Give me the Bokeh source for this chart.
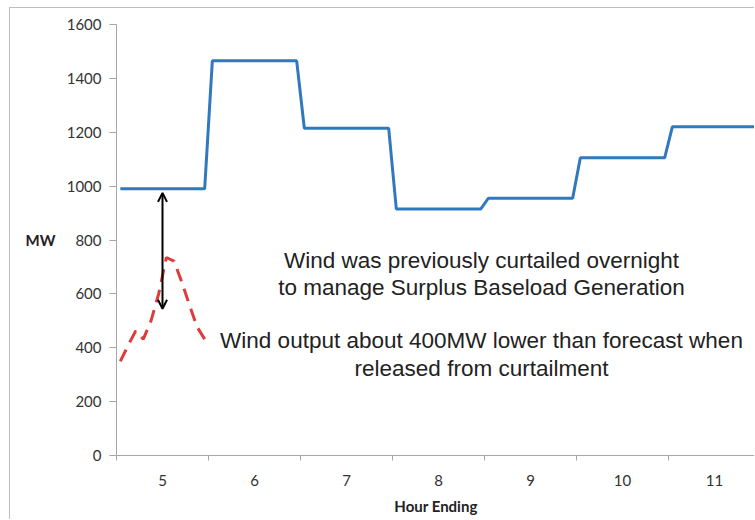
from bokeh.plotting import figure
from bokeh.models import Range1d, FixedTicker, Arrow, OpenHead, ColumnDataSource, LinearAxis, Label
from bokeh.embed import file_html
from bokeh.resources import INLINE

# ---- data ----
hours = [5, 6, 7, 8, 9, 10, 11]
hour_labels = ["5", "6", "7", "8", "9", "10", "11"]
load_mw = [990, 1465, 1215, 915, 955, 1105, 1220]          # blue stepped line (hourly level)
wind_hour = 5
wind_mw = [350, 408, 462, 432, 500, 600, 735, 722, 645, 560, 478, 432]  # red dashed, 5-min values
y_ticks = [0, 200, 400, 600, 800, 1000, 1200, 1400, 1600]
arrow_hour = 5
arrow_top_mw = 975
arrow_bottom_mw = 545
note_lines = [
    "Wind was previously curtailed overnight",
    "to manage Surplus Baseload Generation",
    "Wind output about 400MW lower than forecast when",
    "released from curtailment",
]

# ---- build glyph coordinates from the data ----
step = 1.0 / 12.0
lx, ly = [], []
for h, v in zip(hours, load_mw):
    lx += [h - 0.5 + step / 2, h + 0.5 - step / 2]
    ly += [v, v]
wx = [wind_hour - 0.5 + (i + 0.5) * step for i in range(len(wind_mw))]

load_src = ColumnDataSource(dict(x=lx, y=ly))
wind_src = ColumnDataSource(dict(x=wx, y=wind_mw))

p = figure(
    width=745, height=512,
    x_range=Range1d(4.5, 4.5 + 639 / 92), y_range=Range1d(0, 1600),
    output_backend="svg", toolbar_location=None,
    min_border_left=106, min_border_right=0, min_border_top=16, min_border_bottom=65,
)
p.styles = {"margin-left": "9px", "margin-top": "7px",
            "border-left": "1px solid #BFBFBF", "border-top": "1px solid #BFBFBF"}
p.grid.visible = False
p.outline_line_color = None
p.background_fill_color = "white"
p.border_fill_color = "white"

axis_col = "#A6A6A6"
lab_col = "#333333"

# x axis
xa = p.xaxis[0]
xa.ticker = FixedTicker(ticks=hours, minor_ticks=[h - 0.5 for h in hours] + [hours[-1] + 0.5])
xa.major_label_overrides = {h: s for h, s in zip(hours, hour_labels)}
xa.major_tick_out = 0
xa.major_tick_in = 0
xa.minor_tick_out = 5
xa.minor_tick_in = 0
xa.axis_line_color = axis_col
xa.minor_tick_line_color = axis_col
xa.major_label_text_font = "Lato"
xa.major_label_text_font_size = "15px"
xa.major_label_text_color = lab_col
xa.major_label_standoff = 14
xa.axis_label = "Hour Ending"
xa.axis_label_text_font = "Lato"
xa.axis_label_text_font_size = "15px"
xa.axis_label_text_font_style = "bold"
xa.axis_label_text_color = "#222222"
xa.axis_label_standoff = 8

# y axis
ya = p.yaxis[0]
ya.ticker = FixedTicker(ticks=y_ticks)
ya.major_tick_out = 7
ya.major_tick_in = 0
ya.minor_tick_out = 0
ya.minor_tick_in = 0
ya.axis_line_color = axis_col
ya.major_tick_line_color = axis_col
ya.major_label_text_font = "Lato"
ya.major_label_text_font_size = "15px"
ya.major_label_text_color = lab_col
ya.major_label_standoff = 8

# "MW" caption as a horizontal label on an extra left axis
mw_axis = LinearAxis(ticker=FixedTicker(ticks=[800]), major_label_overrides={800: "MW"})
mw_axis.axis_line_color = None
mw_axis.major_tick_line_color = None
mw_axis.minor_tick_line_color = None
mw_axis.major_tick_out = 0
mw_axis.major_tick_in = 0
mw_axis.major_label_standoff = 8
mw_axis.major_label_text_font = "Lato"
mw_axis.major_label_text_font_size = "15px"
mw_axis.major_label_text_font_style = "bold"
mw_axis.major_label_text_color = "#222222"
p.add_layout(mw_axis, "left")

# lines
p.line("x", "y", source=load_src, line_color="#3079BE", line_width=3)
p.line("x", "y", source=wind_src, line_color="#DE3B3B", line_width=3, line_dash="13 8")

# double arrow
p.add_layout(Arrow(
    start=OpenHead(size=9, line_width=2, line_color="black"),
    end=OpenHead(size=9, line_width=2, line_color="black"),
    x_start=arrow_hour, y_start=arrow_bottom_mw, x_end=arrow_hour, y_end=arrow_top_mw,
    line_width=2, line_color="black"))

# notes
note_x = 4.5 + (481 - 116) / 92
note_y = [724, 624, 427, 323]
for t, yy in zip(note_lines, note_y):
    p.add_layout(Label(x=note_x, y=yy, text=t, text_align="center", text_baseline="alphabetic",
                       text_font="Liberation Sans", text_font_size="22.5px", text_color="#222222"))

open("out.html", "w").write(file_html(p, INLINE))
